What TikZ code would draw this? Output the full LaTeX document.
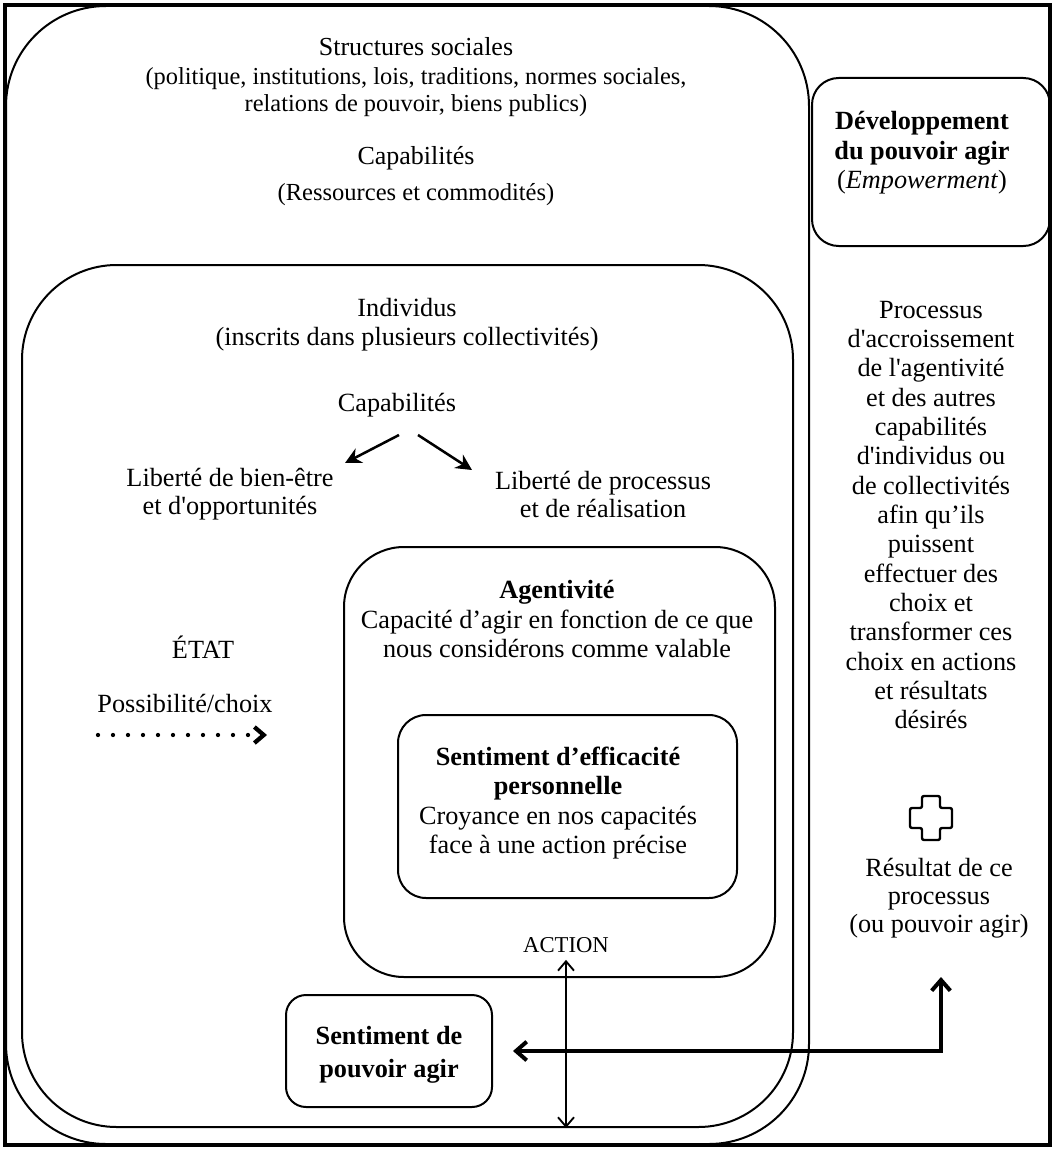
\documentclass[tikz,border=0pt]{standalone}
\usepackage{fontspec}
\setmainfont{Liberation Serif}
\usetikzlibrary{arrows.meta,fit,calc}
\newcommand\mainsz{\fontsize{19.7}{22}\selectfont}
\begin{document}
\begin{tikzpicture}[x=0.75pt,y=-0.75pt,
  txt/.style={align=center, inner sep=0pt, font=\mainsz},
  frm/.style={draw, line width=1.5pt, inner sep=0pt},
  thinarr/.style={line width=1.9pt, -{Stealth[length=12pt,width=12pt]}},
  actarr/.style={line width=1.4pt, {Straight Barb[length=7pt,width=12pt]}-{Straight Barb[length=7pt,width=12pt]}},
  bigarr/.style={line width=3pt, {Straight Barb[length=8pt,width=14pt]}-{Straight Barb[length=8pt,width=14pt]}},
  dotarr/.style={line width=3.2pt, line cap=round, dash pattern=on 0pt off 11.25pt, -{Straight Barb[length=7pt,width=12pt]}}
]
\useasboundingbox (0,0) rectangle (1055,1149);
\fill[white] (0,0) rectangle (1055,1149);
% outer frame
\draw[line width=3.5pt] (5,5) rectangle (1050,1145);
% boxes
\node[frm, fit={(6,6) (809,1144)}, rounded corners=75pt] (soc) {};
\node[frm, fit={(812,78) (1050,246)}, rounded corners=20pt] (dev) {};
\node[frm, fit={(22,265) (793,1127)}, rounded corners=71pt] (indiv) {};
\node[frm, fit={(344,547) (775,977)}, rounded corners=45pt] (agent) {};
\node[frm, fit={(398,715) (737,898)}, rounded corners=21pt] (eff) {};
\node[frm, minimum width=154.5pt, minimum height=84pt, rounded corners=15pt] (spabox) at (389,1051) {};

% top texts
\node[txt, font=\fontsize{19.5}{20}\selectfont] (soctitle) at (416,47) {Structures sociales};
\node[txt, font=\fontsize{18.3}{20}\selectfont] (socdesc) at (416,92) {(politique, institutions, lois, traditions, normes sociales,\\relations de pouvoir, biens publics)};
\node[txt, font=\fontsize{19.5}{20}\selectfont] (cap1) at (416,158) {Capabilités};
\node[txt, font=\fontsize{18.4}{20}\selectfont] (ress) at (416,195) {(Ressources et commodités)};

% development box text
\node[txt, font=\fontsize{19.7}{22.1}\selectfont] (devtxt) at (922,153) {\textbf{Développement}\\\textbf{du pouvoir agir}\\(\textit{Empowerment})};

% individus
\node[txt, font=\fontsize{19.7}{21.5}\selectfont] (indtxt) at (407,325) {Individus\\(inscrits dans plusieurs collectivités)};
\node[txt] (cap2) at (397,405) {Capabilités};
\node[txt, font=\fontsize{19.7}{21}\selectfont] (lib1) at (230,494) {Liberté de bien-être\\et d\textquotesingle opportunités};
\node[txt, font=\fontsize{19.7}{21}\selectfont] (lib2) at (603,494) {Liberté de processus\\et de réalisation};
\draw[thinarr] ([shift={(2,30)}]cap2.center) -- ([shift={(115,-31)}]lib1.center);
\draw[thinarr] ([shift={(21,30)}]cap2.center) -- ([shift={(-131,-24)}]lib2.center);

% etat
\node[txt] (etat) at (203,647) {ÉTAT};
\node[txt] (poss) at (185,703) {Possibilité/choix};
\draw[dotarr] ([shift={(-87,32)}]poss.center) -- ([shift={(82,32)}]poss.center);

% agentivite
\node[txt, font=\fontsize{19.7}{21.8}\selectfont] (agtxt) at (557,619) {\textbf{Agentivité}\\Capacité d’agir en fonction de ce que\\nous considérons comme valable};
\node[txt, font=\fontsize{19.7}{22.2}\selectfont] (efftxt) at (558,803) {\textbf{Sentiment d’efficacité}\\\textbf{personnelle}\\Croyance en nos capacités\\face à une action précise};
\node[txt, font=\fontsize{17}{18}\selectfont] (action) at (566,945) {ACTION};
\draw[actarr] ([shift={(0,7)}]action.south) -- (action.south |- indiv.south);

% sentiment de pouvoir agir
\node[txt, font=\fontsize{19.7}{24.5}\selectfont] (spa) at (389,1055) {\textbf{Sentiment de}\\\textbf{pouvoir agir}};

% right column
\node[txt, font=\fontsize{19.7}{22}\selectfont] (proc) at (931,515) {Processus\\d\textquotesingle accroissement\\de l\textquotesingle agentivité\\et des autres\\capabilités\\d\textquotesingle individus ou\\de collectivités\\afin qu’ils\\puissent\\effectuer des\\choix et\\transformer ces\\choix en actions\\et résultats\\désirés};
\draw[line width=1.8pt, fill=white, rounded corners=1.5pt]
  (922,796) -- (940,796) -- (940,808) -- (952,808) -- (952,828) -- (940,828)
  -- (940,840) -- (922,840) -- (922,828) -- (910,828) -- (910,808) -- (922,808) -- cycle;
\node[txt, font=\fontsize{19.7}{21}\selectfont] (res) at (939,898) {Résultat de ce\\processus\\(ou pouvoir agir)};
\coordinate (restip) at (941,977);
\draw[bigarr] ([shift={(20,0)}]spabox.east) -| (restip);
\end{tikzpicture}
\end{document}
